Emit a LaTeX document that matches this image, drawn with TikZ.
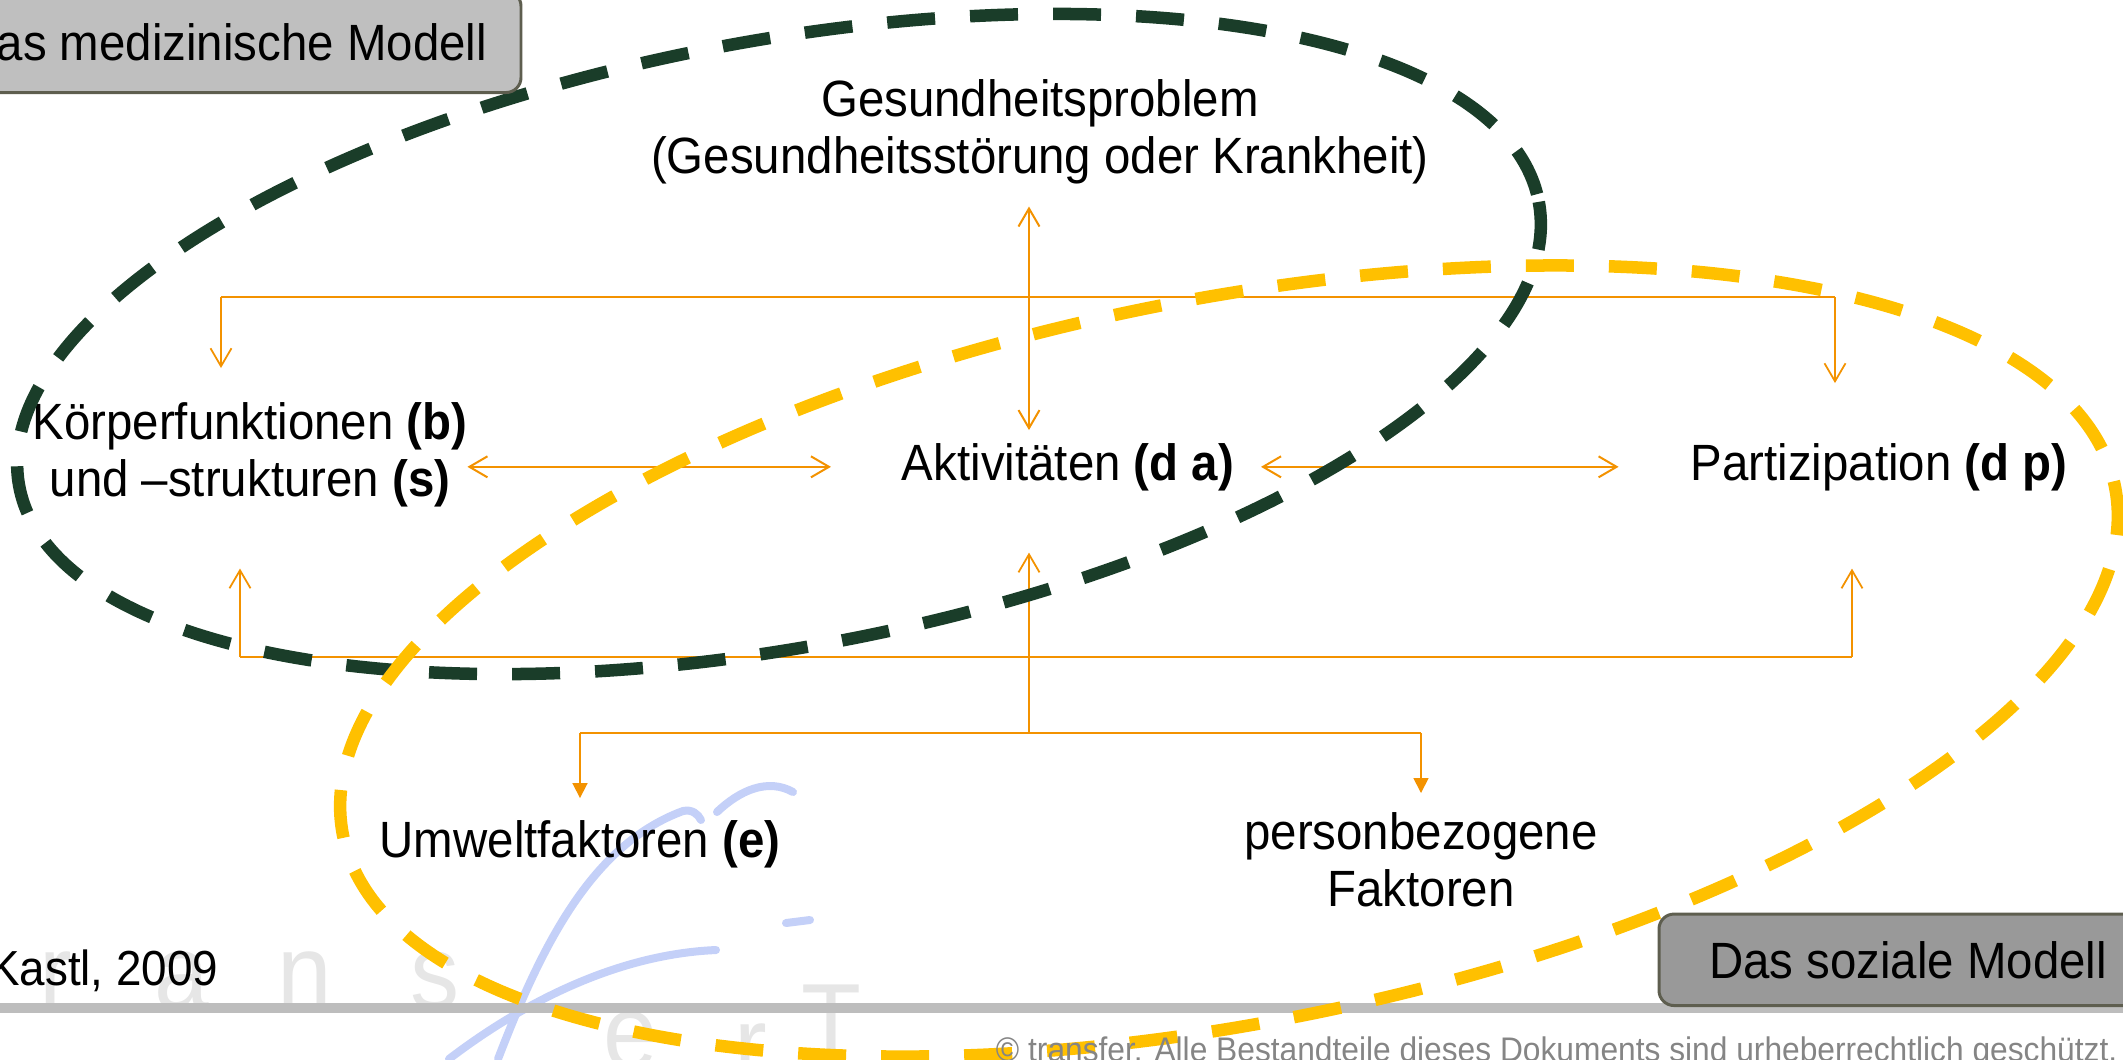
\documentclass[tikz,border=0pt]{standalone}
\usepackage{fontspec}
\setmainfont[FakeStretch=0.93]{Liberation Sans}
\usetikzlibrary{arrows.meta,calc}

\definecolor{icforange}{HTML}{F39200}
\definecolor{medgreen}{HTML}{1A3D29}
\definecolor{socyellow}{HTML}{FFC000}
\definecolor{boxlight}{HTML}{BFBFBF}
\definecolor{boxdark}{HTML}{999999}
\definecolor{boxline}{HTML}{5E5E4F}
\definecolor{rulegrey}{HTML}{BDBDBD}
\definecolor{footgrey}{HTML}{858585}
\definecolor{markgrey}{HTML}{E6E6E6}
\definecolor{markblue}{HTML}{C4D0F8}

\newcommand{\diagfont}{\fontsize{14.5pt}{16.2pt}\selectfont}

\begin{document}
\begin{tikzpicture}[x=0.01cm, y=-0.01cm,
    lbl/.style={inner sep=0pt, outer sep=0pt, font=\diagfont, align=center},
    modelbox/.style={draw=boxline, line width=0.85pt, rounded corners=0.15cm, inner xsep=0.5cm, inner ysep=0.27cm, outer sep=0pt, font=\diagfont},
    biarrow/.style={draw=icforange, line width=0.57pt, {Straight Barb[length=0.18cm,width=0.21cm]}-{Straight Barb[length=0.18cm,width=0.21cm]}},
    busline/.style={draw=icforange, line width=0.42pt},
    busarrow/.style={draw=icforange, line width=0.5pt, -{Straight Barb[length=0.18cm,width=0.21cm]}},
    triarrow/.style={draw=icforange, line width=0.5pt, -{Triangle[length=0.15cm,width=0.15cm]}},
    modeldash/.style={line width=0.125cm, dash pattern=on 0.48cm off 0.35cm},
    wmletter/.style={anchor=base, inner sep=0pt, text=markgrey, font=\fontsize{30pt}{30pt}\selectfont},
    swoosh/.style={draw=markblue, line width=0.08cm, line cap=round}]

    \useasboundingbox (0,0) rectangle (2123,1059);

    % watermark
    \node[wmletter] (wmr) at (56,1008) {r};
    \node[wmletter] (wma) at (182,1008) {a};
    \node[wmletter] (wmn) at (305,1008) {n};
    \node[wmletter] (wms) at (435,1008) {s};
    \node[wmletter] (wme) at (631,1068) {e};
    \node[wmletter] (wmr2) at (751,1080) {r};
    \node[wmletter] (wmt) at (831,1057) {T};
    \draw[swoosh] (449,1059) .. controls (500,1020) and (600,955) .. (716,950);
    \draw[swoosh] (498,1059) .. controls (540,950) and (590,845) .. (683,811) .. controls (692,809) and (698,814) .. (701,820);
    \draw[swoosh] (717,812) .. controls (740,790) and (768,778) .. (793,792);
    \draw[swoosh] (786,923) -- (810,920);

    \draw[rulegrey, line width=0.1cm] (0,1008) -- (2123,1008);

    % components
    \node[lbl, anchor=north] (ges) at (1040,80) {Gesundheitsproblem\\(Gesundheitsstörung oder Krankheit)};
    \node[lbl, anchor=north] (kf) at (250,403) {Körperfunktionen \textbf{(b)}\\und –strukturen \textbf{(s)}};
    \node[lbl, anchor=base] (akt) at (1068,480) {Aktivitäten \textbf{(d a)}};
    \node[lbl, anchor=base] (part) at (1879,480) {Partizipation \textbf{(d p)}};
    \node[lbl, anchor=base] (umw) at (580,857) {Umweltfaktoren \textbf{(e)}};
    \node[lbl, anchor=north] (pers) at (1421,813) {personbezogene\\Faktoren};

    \coordinate (tophub) at (1029,297);
    \coordinate (topl) at (221,297);
    \coordinate (topr) at (1835,297);
    \coordinate (botl) at (240,657);
    \coordinate (botr) at (1852,657);
    \coordinate (envhub) at (1029,733);

    % interactions
    \draw[biarrow] ($(ges.south -| tophub)+(0,22)$) -- ($(akt.north -| tophub)+(0,-13)$);
    \draw[biarrow] (kf.east |- akt.west) -- ($(akt.west)+(-71,0)$);
    \draw[biarrow] ($(akt.east)+(27,0)$) -- ($(part.west)+(-72,0)$);

    \draw[busline] (topl) -- (topr);
    \draw[busarrow] (topl) -- ($(kf.north -| topl)+(0,-35)$);
    \draw[busarrow] (topr) -- ($(part.north -| topr)+(0,-60)$);

    \draw[busline] (botl) -- (botr);
    \draw[busarrow] (botl) -- ($(kf.south -| botl)+(0,61)$);
    \draw[busarrow] (botr) -- ($(part.south -| botr)+(0,78)$);
    \draw[busarrow] (envhub) -- ($(akt.south -| envhub)+(0,62)$);

    \draw[busline] (umw.north |- envhub) -- (pers.north |- envhub);
    \draw[triarrow] (umw.north |- envhub) -- ($(umw.north)+(0,-22)$);
    \draw[triarrow] (pers.north |- envhub) -- ($(pers.north)+(0,-20)$);

    % models
    \draw[modeldash, medgreen, rotate around={10.6:(779,344)}] (779,344) ellipse [x radius=773, y radius=303];
    \draw[modeldash, socyellow, rotate around={11.1:(1229,661)}] (1229,661) ellipse [x radius=903, y radius=362];

    \node[modelbox, fill=boxlight, anchor=base east, inner xsep=0.34cm, inner ysep=0.32cm] (med) at (521,60) {Das medizinische Modell};
    \node[modelbox, fill=boxdark, anchor=base west] (soz) at (1659,978) {Das soziale Modell};

    \node[anchor=base east, inner sep=0pt, text=footgrey, font=\fontsize{9.7pt}{11pt}\selectfont] (copy) at (2118,1061) {© transfer. Alle Bestandteile dieses Dokuments sind urheberrechtlich geschützt.};
    \node[anchor=base east, inner sep=0pt, font=\fontsize{14pt}{15pt}\selectfont] (src) at (219,985) {Kastl, 2009};

\end{tikzpicture}
\end{document}
